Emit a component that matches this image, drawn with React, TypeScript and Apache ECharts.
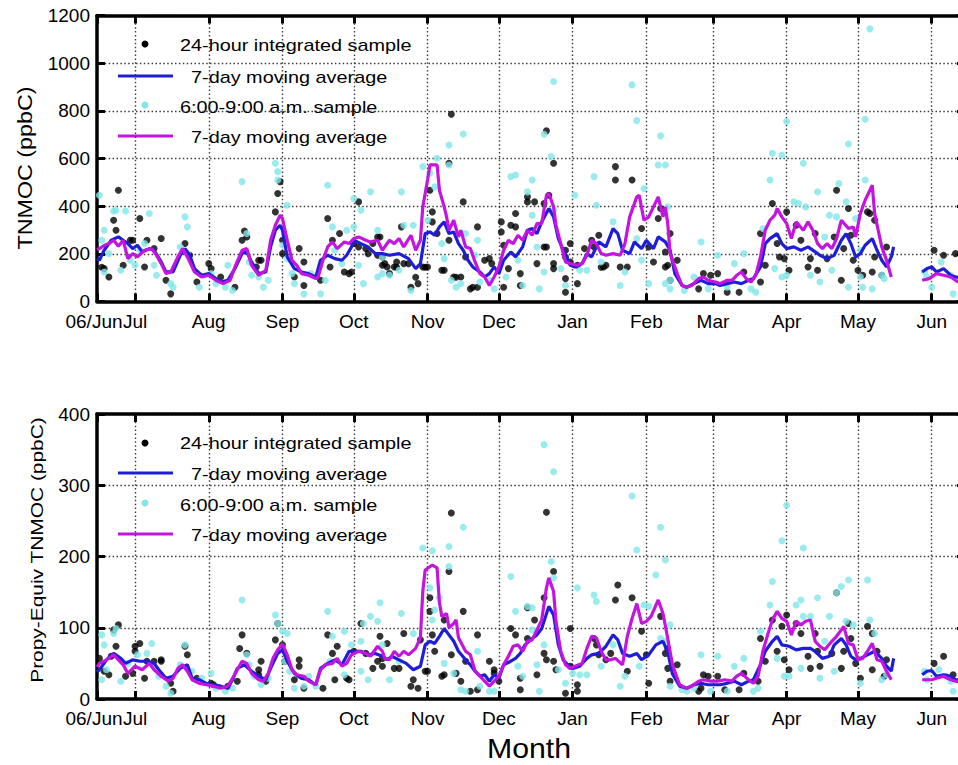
import React, { useEffect, useRef } from "react";
import * as echarts from "echarts";

// Day index 0 = 15 Jun 2006, day 365 = 15 Jun 2007 (one category per day)
const DAY_COUNT = 366;
const tickDays = [0, 16, 47, 78, 108, 139, 169, 200, 231, 259, 290, 320, 351];
const tickLabels = ["06/Jun", "Jul", "Aug", "Sep", "Oct", "Nov", "Dec", "Jan", "Feb", "Mar", "Apr", "May", "Jun"];

// ---- TNMOC (ppbC): [day, value] ----
const tnmoc24h = [
  [2,144],[3,138],[5,103],[7,341],[8,299],[9,467],[11,152],[14,257],[15,257],[18,348],[20,145],[21,257],[24,222],[27,264],[29,89],[31,32],[37,243],[39,194],[42,82],[47,159],[48,138],[52,103],[58,60],[61,257],[62,296],[63,271],[67,145],[68,173],[69,173],[75,376],[76,453],[77,503],[78,257],[78,201],[83,103],[85,222],[87,166],[87,67],[94,89],[97,348],[98,145],[99,257],[102,285],[104,124],[106,117],[107,124],[108,243],[110,418],[110,229],[113,222],[114,201],[116,243],[118,194],[118,271],[119,271],[120,152],[120,187],
  [121,159],[122,145],[123,117],[125,145],[126,166],[126,144],[128,313],[129,159],[131,159],[132,60],[134,102],[135,75],[137,145],[138,144],[139,145],[140,467],[141,376],[141,334],[143,285],[145,131],[146,131],[148,580],[148,257],[149,786],[150,103],[151,102],[153,103],[154,418],[155,187],[157,53],[158,60],[160,60],[160,313],[163,173],[165,180],[166,159],[170,292],[170,334],[171,60],[171,236],[173,138],[174,320],[176,369],[176,313],[178,117],[178,67],[181,418],[181,439],[184,418],[185,159],[188,411],[188,229],[189,716],[189,229],[190,446],[192,580],[192,138],[192,159],[197,215],[197,96],[197,39],[197,187],[199,166],[199,243],[202,152],[202,75],[205,222],[208,257],[209,229],[211,278],[212,144],[213,145],[214,152],[218,566],[218,510],[220,145],[223,145],[225,510],[229,306],[232,229],[234,166],[236,348],[237,390],[239,208],[239,145],
  [240,152],[241,285],[241,89],[244,173],[253,53],[255,117],[258,110],[261,117],[265,39],[270,39],[272,124],[279,82],[279,285],[281,152],[284,411],[286,243],[287,187],[289,180],[290,376],[291,131],[294,320],[296,257],[299,145],[300,180],[302,285],[303,131],[307,180],[310,271],[311,467],[313,89],[314,222],[316,390],[317,278],[318,173],[320,131],[322,110],[324,376],[325,369],[326,124],[327,341],[327,187],[330,110],[332,229],[352,215],[356,194],[361,201],
];

const tnmocMorning = [
  [1,446],[2,257],[3,299],[3,124],[5,201],[7,380],[8,383],[10,131],[12,380],[14,173],[16,152],[18,215],[20,243],[22,369],[24,152],[25,110],[31,75],[32,60],[35,229],[37,355],[38,313],[38,201],[43,60],[48,117],[50,75],[54,60],[55,152],[57,46],[61,503],[63,285],[64,166],[65,110],[68,103],[70,60],[72,89],[75,580],[76,510],[76,545],[78,236],[80,404],[80,180],[82,117],[83,75],[87,32],[90,117],[94,32],[96,89],[97,488],[99,313],[100,215],[103,159],[105,299],[108,313],[108,432],[110,152],[111,383],[112,75],[115,460],[118,299],[118,103],[120,117],
  [120,187],[123,110],[127,131],[128,460],[129,320],[132,46],[133,320],[137,566],[139,341],[140,538],[142,481],[143,601],[145,243],[146,180],[148,573],[148,657],[149,89],[151,60],[153,75],[154,703],[155,285],[159,194],[160,257],[161,82],[165,89],[167,53],[172,103],[174,524],[176,531],[177,173],[179,67],[181,460],[183,510],[183,362],[185,229],[186,53],[188,124],[188,702],[191,608],[192,383],[192,923],[195,138],[197,67],[201,446],[203,131],[206,131],[209,524],[210,404],[212,166],[217,334],[220,67],[222,124],[225,909],[227,759],[227,264],[229,173],[230,474],[232,75],[236,573],[237,695],[239,573],[239,75],
  [240,397],[241,89],[241,53],[247,46],[251,103],[254,250],[257,53],[261,194],[265,60],[268,159],[272,201],[275,53],[277,39],[280,306],[283,510],[284,622],[285,138],[288,615],[288,103],[290,755],[290,110],[293,418],[295,411],[297,580],[298,397],[300,110],[303,460],[304,82],[306,271],[308,362],[309,131],[311,355],[312,495],[315,418],[316,661],[316,60],[319,348],[321,215],[321,103],[322,60],[323,510],[323,765],[325,1144],[326,53],[330,110],[331,96],[348,124],[349,103],[351,60],[355,166],[359,110],[360,32],
];

const tnmoc24hAvg = [
  [0,180],[1,173],[3,215],[6,257],[9,271],[11,257],[13,243],[15,222],[17,236],[19,208],[22,222],[24,215],[27,166],[29,124],[32,124],[35,194],[37,222],[39,194],[41,138],[44,110],[47,117],[50,96],[52,82],[55,89],[58,138],[61,201],[63,208],[65,166],[68,117],[71,124],[73,229],[75,299],[77,320],[78,299],[80,187],[83,138],[86,124],[89,117],[92,103],[94,173],[97,194],[100,180],[103,173],[105,194],[107,229],[108,257],[111,243],[114,229],[117,201],[120,201],[123,194],[127,201],[131,180],[134,138],[136,159],[138,285],[140,292],[142,278],[144,313],[146,334],[148,285],[150,292],[152,243],[154,215],[156,173],[158,145],[161,124],[163,103],[165,117],[167,145],[169,117],[171,173],[174,208],[176,187],[179,229],[181,299],[183,306],[185,285],[187,334],[190,390],[192,355],[194,264],[197,194],[199,152],[201,145],[204,159],[206,201],[208,187],[211,250],[214,229],[217,306],[219,285],[221,215],[224,201],[226,250],[229,222],[231,257],[234,222],[236,271],[239,250],[241,215],[243,117],[246,67],[248,60],[251,75],[254,89],[257,75],[260,75],[262,67],[265,75],[268,82],[271,75],[274,89],[276,96],[279,145],[281,243],[283,264],[286,285],[288,243],[290,222],[293,229],[296,215],[299,229],[302,208],[304,194],[307,180],[310,194],[313,257],[315,285],[317,243],[319,187],[321,201],[323,236],[326,264],[328,215],[330,173],[332,145],[334,187],[335,229],
  [347,124],[349,138],[351,145],[353,124],[356,138],[359,110],[361,103],[363,100],[365,95],
];

const tnmocMorningAvg = [
  [0,218],[1,222],[3,235],[5,243],[7,257],[9,232],[11,257],[13,180],[15,201],[17,187],[20,215],[23,222],[25,194],[27,159],[29,117],[31,124],[34,187],[36,222],[38,187],[41,124],[44,103],[47,110],[50,89],[53,75],[56,89],[58,145],[61,215],[63,222],[65,152],[68,110],[71,131],[73,257],[75,320],[77,362],[78,348],[80,257],[82,173],[84,152],[86,117],[89,110],[92,96],[93,103],[95,173],[97,229],[99,250],[101,222],[104,250],[106,243],[108,264],[110,271],[113,257],[115,250],[118,257],[120,215],[123,257],[125,243],[127,264],[129,229],[132,278],[134,215],[136,257],[137,397],[139,510],[140,573],[143,573],[144,467],[146,397],[147,355],[148,299],[150,341],[152,271],[153,299],[155,229],[157,222],[159,166],[161,117],[163,103],[165,67],[167,103],[169,145],[171,215],[173,257],[175,243],[177,278],[179,257],[181,299],[183,278],[185,327],[187,327],[189,446],[190,453],[192,397],[193,320],[195,243],[197,166],[199,159],[202,152],[204,159],[206,194],[208,257],[210,243],[212,201],[214,194],[217,201],[220,194],[222,243],[224,355],[227,439],[228,446],[230,341],[232,355],[236,439],[238,355],[239,397],[240,327],[241,201],[244,117],[246,67],[248,60],[250,67],[253,96],[255,103],[257,89],[260,82],[262,75],[265,89],[267,89],[269,110],[271,124],[273,96],[275,82],[277,110],[279,187],[281,299],[283,341],[285,362],[286,390],[288,355],[290,327],[292,264],[294,334],[297,299],[299,334],[301,299],[303,243],[305,222],[307,243],[309,222],[311,264],[313,341],[316,306],[318,313],[319,271],[321,369],[323,425],[326,488],[327,369],[330,229],[332,173],[334,103],
  [347,89],[350,96],[353,117],[356,110],[359,103],[361,89],[363,78],[365,70],
];

// ---- Propylene-equivalent TNMOC (ppbC): [day, value] ----
const propy24h = [
  [1,57],[3,39],[5,34],[6,60],[7,97],[8,74],[9,104],[12,32],[15,36],[16,67],[16,74],[18,78],[20,29],[21,53],[24,53],[27,55],[27,53],[31,22],[32,11],[37,74],[38,62],[42,29],[48,22],[49,20],[55,18],[59,25],[60,71],[61,90],[63,64],[68,41],[68,34],[69,53],[71,25],[75,83],[76,106],[78,76],[79,53],[83,27],[85,55],[85,46],[87,15],[95,15],[97,90],[99,64],[100,27],[101,74],[105,29],[106,27],[108,67],[111,106],[113,64],[116,43],[118,53],[119,88],[120,57],
  [120,46],[122,78],[125,43],[127,43],[129,92],[132,18],[133,27],[135,15],[136,83],[138,39],[139,39],[140,142],[140,123],[141,90],[142,67],[145,32],[146,34],[146,111],[148,179],[149,62],[149,261],[151,36],[153,25],[154,123],[155,53],[157,11],[160,13],[160,90],[165,53],[167,36],[167,41],[169,25],[174,99],[176,90],[178,29],[178,13],[181,128],[181,85],[184,111],[185,34],[188,142],[188,64],[189,55],[189,262],[192,179],[192,53],[193,41],[197,8],[199,99],[199,46],[202,20],[202,11],[209,85],[210,76],[211,62],[214,55],[216,64],[218,139],[219,160],[223,39],[225,142],[229,95],[231,62],[232,22],[237,116],[239,64],
  [240,71],[240,43],[241,25],[244,48],[253,11],[254,15],[255,34],[257,32],[261,32],[264,13],[270,13],[272,36],[278,25],[279,85],[281,53],[284,111],[286,67],[288,102],[289,55],[290,118],[291,41],[294,106],[296,92],[299,60],[300,43],[302,92],[303,67],[304,46],[309,64],[311,149],[313,43],[314,67],[316,106],[317,85],[319,50],[321,29],[324,102],[326,92],[326,41],[328,67],[331,32],[332,55],[352,50],[356,60],[360,34],
];

const propyMorning = [
  [2,90],[2,27],[3,76],[4,41],[7,92],[8,99],[10,25],[13,50],[17,62],[21,64],[23,78],[24,46],[26,32],[29,18],[31,8],[35,48],[37,76],[40,39],[44,29],[48,36],[50,15],[54,11],[57,15],[61,139],[63,62],[64,48],[66,32],[69,20],[72,29],[75,118],[76,106],[78,95],[79,53],[80,92],[81,39],[83,15],[87,18],[89,32],[92,18],[97,123],[98,53],[99,88],[104,95],[104,34],[107,76],[111,81],[111,39],[112,106],[114,27],[115,116],[118,109],[119,135],[120,76],
  [123,27],[127,53],[128,120],[133,92],[137,212],[140,156],[141,111],[141,208],[142,125],[144,142],[146,50],[148,214],[148,186],[150,36],[153,13],[154,241],[155,11],[160,67],[161,18],[165,11],[167,11],[174,172],[176,123],[177,46],[179,32],[181,130],[183,128],[183,97],[185,48],[186,11],[188,76],[188,357],[191,193],[192,170],[192,319],[194,41],[197,22],[200,36],[202,156],[203,34],[206,34],[209,146],[210,137],[212,46],[217,76],[220,18],[222,32],[225,285],[227,209],[228,46],[230,132],[232,130],[235,174],[237,85],[237,241],[239,195],[239,81],
  [241,104],[241,18],[246,13],[248,11],[251,15],[254,62],[258,11],[261,60],[265,11],[268,46],[272,57],[276,11],[278,15],[279,95],[283,132],[284,165],[286,57],[288,222],[289,32],[290,272],[291,32],[294,132],[296,139],[296,43],[297,116],[297,212],[300,116],[303,142],[304,29],[306,81],[308,116],[310,39],[311,149],[313,158],[315,109],[316,167],[318,104],[321,22],[324,167],[325,111],[327,92],[330,27],[332,34],[348,39],[349,27],[354,41],[357,32],[359,25],[360,11],
];

const propy24hAvg = [
  [0,38],[1,41],[4,55],[7,64],[10,57],[12,50],[15,55],[18,53],[21,53],[24,50],[26,41],[29,29],[32,32],[35,43],[38,48],[40,29],[43,27],[46,22],[49,20],[52,18],[55,15],[57,27],[59,43],[62,48],[65,39],[68,32],[71,27],[73,43],[76,64],[78,69],[80,53],[83,36],[86,29],[89,27],[92,20],[94,43],[97,50],[100,55],[103,48],[106,67],[108,67],[111,67],[114,62],[117,64],[120,60],[122,55],[124,60],[127,55],[130,50],[133,41],[136,46],[138,76],[140,81],[142,78],[144,88],[146,99],[148,90],[150,81],[152,67],[155,55],[157,48],[159,39],[161,32],[163,34],[165,25],[167,34],[169,29],[171,48],[174,53],[176,57],[178,64],[180,76],[183,85],[185,90],[187,99],[190,130],[192,118],[194,76],[196,55],[198,48],[200,43],[203,46],[206,57],[208,62],[211,64],[214,74],[217,90],[219,83],[221,64],[224,60],[227,64],[229,55],[232,62],[235,76],[238,81],[240,66],[242,35],[245,18],[248,15],[251,20],[254,22],[257,20],[260,20],[262,20],[265,22],[268,25],[271,20],[274,25],[276,27],[279,48],[281,67],[284,81],[286,88],[288,76],[291,74],[294,69],[297,71],[300,71],[302,67],[305,57],[308,60],[310,76],[313,85],[315,76],[317,60],[319,55],[321,57],[324,62],[327,67],[330,57],[332,46],[334,39],[335,57],
  [347,34],[349,39],[351,40],[353,32],[356,34],[359,32],[361,27],[363,27],[365,26],
];

const propyMorningAvg = [
  [0,45],[1,50],[4,55],[7,62],[9,55],[11,48],[13,36],[16,46],[19,41],[22,50],[24,41],[27,32],[30,25],[32,29],[34,43],[36,48],[38,39],[40,27],[43,22],[46,20],[49,18],[52,15],[55,18],[57,29],[59,41],[61,53],[63,50],[65,36],[68,27],[70,25],[72,36],[74,57],[76,69],[78,77],[80,62],[82,41],[84,34],[87,32],[89,25],[92,20],[94,41],[96,48],[99,50],[101,57],[103,46],[105,50],[107,62],[110,67],[113,64],[115,60],[118,74],[120,67],[121,57],[123,55],[125,67],[127,60],[129,67],[131,62],[134,71],[136,86],[137,151],[138,181],[141,188],[143,184],[144,135],[145,116],[147,120],[148,100],[150,106],[151,111],[152,86],[155,67],[157,62],[159,39],[161,32],[163,25],[165,18],[167,25],[169,32],[171,48],[173,60],[175,74],[177,76],[179,67],[181,81],[183,83],[185,97],[187,111],[189,156],[190,170],[192,151],[193,109],[195,67],[197,48],[199,43],[201,46],[204,50],[206,71],[208,88],[210,86],[212,67],[214,55],[216,55],[218,57],[221,48],[223,88],[225,113],[227,134],[229,106],[231,109],[233,116],[236,139],[238,120],[240,85],[242,48],[245,20],[248,15],[250,18],[253,25],[255,27],[258,25],[261,25],[264,27],[267,25],[269,32],[271,36],[274,27],[276,22],[278,32],[280,67],[282,90],[284,111],[286,123],[288,113],[290,109],[292,90],[294,109],[296,104],[298,109],[300,111],[302,81],[304,74],[306,69],[309,81],[311,88],[313,97],[314,102],[316,78],[318,76],[320,55],[322,57],[324,67],[326,78],[328,55],[330,53],[332,39],[334,27],
  [347,27],[351,27],[353,29],[356,32],[359,27],[361,25],[363,24],[365,22],
];

const legendLabels = ["24-hour integrated sample", "7-day moving average", "6:00-9:00 a.m. sample", "7-day moving average"];

const FONT = "'Liberation Sans', Arial, Helvetica, sans-serif";
const BLACK = "#000000";
const CYAN = "#7fe6e9";
const BLUE = "#1e1ed8";
const MAGENTA = "#c414e0";
const GRID_LINE = { color: "#3c3c3c", width: 1.4, type: [1.5, 2.4] as number[] };

const categories = Array.from({ length: DAY_COUNT }, (_, i) => String(i));
const tickSet = new Set(tickDays);
const labelOf = new Map(tickDays.map((d, i) => [String(d), tickLabels[i]]));

// Split a moving-average series where the sampling gap is long
function segments(points: number[][]): number[][][] {
  const out: number[][][] = [];
  let cur: number[][] = [];
  for (const p of points) {
    if (cur.length && p[0] - cur[cur.length - 1][0] > 6) {
      out.push(cur);
      cur = [];
    }
    cur.push(p);
  }
  if (cur.length) out.push(cur);
  return out;
}

const tickLabelStyle = { color: BLACK, fontSize: 19, fontFamily: FONT };

// Three x axes per panel: month ticks/labels (bottom), frame with ticks (top),
// and a label-only axis carrying the start-of-record label at day 0.
function xAxesFor(grid: number) {
  const bottom = {
    type: "category",
    gridIndex: grid,
    data: categories,
    boundaryGap: false,
    position: "bottom",
    axisLine: { show: true, onZero: false, lineStyle: { color: BLACK, width: 3.5 } },
    axisTick: {
      show: true,
      inside: true,
      length: 8,
      interval: (i: number) => tickSet.has(i),
      lineStyle: { color: BLACK, width: 3 },
    },
    axisLabel: {
      ...tickLabelStyle,
      show: true,
      hideOverlap: false,
      interval: (i: number) => i > 0 && tickSet.has(i),
      formatter: (v: string) => labelOf.get(v) ?? "",
      margin: 10,
    },
    splitLine: {
      show: true,
      interval: (i: number) => i > 0 && tickSet.has(i),
      lineStyle: GRID_LINE,
    },
  };
  const top = {
    ...bottom,
    position: "top",
    axisLabel: { show: false },
    splitLine: { show: false },
  };
  const start = {
    type: "category",
    gridIndex: grid,
    data: categories,
    boundaryGap: false,
    position: "bottom",
    offset: 0,
    axisLine: { show: false, onZero: false },
    axisTick: { show: false },
    splitLine: { show: false },
    axisLabel: {
      ...tickLabelStyle,
      show: true,
      showMinLabel: true,
      hideOverlap: false,
      interval: (i: number) => i === 0,
      formatter: (v: string) => labelOf.get(v) ?? "",
      padding: [0, 6, 0, 0],
      margin: 10,
    },
  };
  return [bottom, top, start];
}

function yAxesFor(grid: number, max: number, step: number) {
  const left = {
    type: "value",
    gridIndex: grid,
    min: 0,
    max,
    interval: step,
    position: "left",
    axisLine: { show: true, onZero: false, lineStyle: { color: BLACK, width: 3.5 } },
    axisTick: { show: true, inside: true, length: 8, lineStyle: { color: BLACK, width: 3 } },
    axisLabel: {
      ...tickLabelStyle,
      margin: 7,
      formatter: (v: number) => String(v),
    },
    splitLine: { show: true, lineStyle: GRID_LINE },
  };
  const right = { ...left, position: "right", axisLabel: { show: false }, splitLine: { show: false } };
  return [left, right];
}

function panelSeries(xi: number, yi: number, dots24: number[][], dotsAm: number[][], avg24: number[][], avgAm: number[][]) {
  const base = { xAxisIndex: xi, yAxisIndex: yi, silent: true };
  const list: any[] = [
    { ...base, type: "scatter", data: dots24, symbol: "circle", symbolSize: 7, itemStyle: { color: BLACK } },
    { ...base, type: "scatter", data: dotsAm, symbol: "circle", symbolSize: 7, itemStyle: { color: CYAN } },
  ];
  for (const seg of segments(avg24)) {
    list.push({ ...base, type: "line", data: seg, showSymbol: false, symbol: "none", lineStyle: { color: BLUE, width: 3.2 } });
  }
  for (const seg of segments(avgAm)) {
    list.push({ ...base, type: "line", data: seg, showSymbol: false, symbol: "none", lineStyle: { color: MAGENTA, width: 3.2 } });
  }
  return list;
}

function legendGraphics(rows: number[], textRows: number[]) {
  const g: any[] = [];
  const textStyle = (text: string) => ({
    text,
    fill: BLACK,
    fontSize: 16,
    fontFamily: FONT,
    align: "left",
    verticalAlign: "middle",
    textAlign: "left",
    textVerticalAlign: "middle",
  });
  g.push({ type: "circle", shape: { cx: 145, cy: rows[0], r: 3.5 }, style: { fill: BLACK } });
  g.push({ type: "line", shape: { x1: 118, y1: rows[1], x2: 173, y2: rows[1] }, style: { stroke: BLUE, lineWidth: 3.2 } });
  g.push({ type: "circle", shape: { cx: 145, cy: rows[2], r: 3.5 }, style: { fill: CYAN } });
  g.push({ type: "line", shape: { x1: 118, y1: rows[3], x2: 173, y2: rows[3] }, style: { stroke: MAGENTA, lineWidth: 3.2 } });
  const textX = [180, 191, 180, 191];
  legendLabels.forEach((label, i) => {
    g.push({ type: "text", x: textX[i], y: textRows[i], scaleX: 1.24, style: textStyle(label) });
  });
  return g;
}

function axisTitle(text: string, x: number, y: number, size: number, stretch: number, vertical: boolean) {
  return {
    type: "text",
    x,
    y,
    rotation: vertical ? Math.PI / 2 : 0,
    scaleX: stretch,
    style: {
      text,
      fill: BLACK,
      fontSize: size,
      fontFamily: FONT,
      align: "center",
      verticalAlign: "middle",
      textAlign: "center",
      textVerticalAlign: "middle",
    },
  };
}

export default function App() {
  const ref = useRef<HTMLDivElement>(null);

  useEffect(() => {
    if (!ref.current) return;
    const chart = echarts.init(ref.current, undefined, { renderer: "svg" });
    chart.setOption({
      animation: false,
      backgroundColor: "#ffffff",
      grid: [
        { left: 97, top: 15.5, width: 868, height: 286 },
        { left: 97, top: 414, width: 868, height: 285 },
      ],
      xAxis: [...xAxesFor(0), ...xAxesFor(1)],
      yAxis: [...yAxesFor(0, 1200, 200), ...yAxesFor(1, 400, 100)],
      series: [
        ...panelSeries(0, 0, tnmoc24h, tnmocMorning, tnmoc24hAvg, tnmocMorningAvg),
        ...panelSeries(3, 2, propy24h, propyMorning, propy24hAvg, propyMorningAvg),
      ],
      graphic: [
        ...legendGraphics([44, 76, 105, 136], [46, 78, 107.5, 138]),
        ...legendGraphics([443, 473, 503, 534], [444, 474.5, 506, 536]),
        axisTitle("TNMOC (ppbC)", 25, 168, 21, 1.11, true),
        axisTitle("Propy-Equiv TNMOC (ppbC)", 37.5, 550, 17, 1.23, true),
        axisTitle("Month", 529, 748, 28, 1.08, false),
      ],
    });
    return () => chart.dispose();
  }, []);

  return (
    <div
      style={{
        position: "absolute",
        left: 0,
        top: 0,
        width: 958,
        height: 765,
        overflow: "hidden",
        background: "#ffffff",
      }}
    >
      <div ref={ref} style={{ width: 970, height: 765 }} />
    </div>
  );
}
